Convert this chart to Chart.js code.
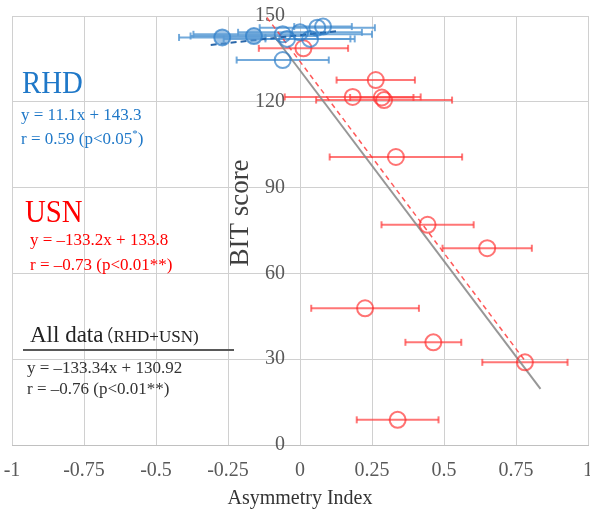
<!DOCTYPE html>
<html>
<head>
<meta charset="utf-8">
<script src="https://cdn.jsdelivr.net/npm/chart.js@4.4.0/dist/chart.umd.min.js"></script>
<style>
  html, body { margin: 0; padding: 0; background: #fff; }
  #wrap { width: 590px; height: 509px; }
</style>
</head>
<body>
<div id="wrap"><canvas id="chart" width="590" height="509"></canvas></div>
<script>
// Eixos
const xTicks = [-1, -0.75, -0.5, -0.25, 0, 0.25, 0.5, 0.75, 1];
const xTickLabels = ["-1", "-0.75", "-0.5", "-0.25", "0", "0.25", "0.5", "0.75", "1"];
const yTicks = [0, 30, 60, 90, 120, 150];

// RHD (azul)
const rhdX = [-0.27, -0.16, -0.06, -0.045, 0.0, 0.035, 0.06, 0.08, -0.06];
const rhdY = [142.5, 143.0, 143.6, 142.0, 144.3, 142.0, 145.9, 146.3, 134.6];
const rhdErr = [0.15, 0.22, 0.31, 0.22, 0.215, 0.155, 0.2, 0.1, 0.16];

// USN (vermelho)
const usnX = [0.012, 0.263, 0.183, 0.284, 0.292, 0.333, 0.443, 0.65, 0.226, 0.463, 0.781, 0.339];
const usnY = [138.7, 127.6, 121.7, 121.5, 120.6, 100.7, 77.0, 68.8, 47.8, 35.9, 28.9, 8.8];
const usnErr = [0.155, 0.136, 0.236, 0.11, 0.236, 0.23, 0.16, 0.155, 0.187, 0.097, 0.148, 0.142];

// Retas de regressão (extremos)
const rhdLineX = [-0.31, 0.13];
const rhdLineY = [139.9, 144.7];
const usnLineX = [-0.115, 0.78];
const usnLineY = [149.5, 29.6];
const allLineX = [-0.09, 0.835];
const allLineY = [143.0, 19.6];

const BLUE = "rgba(46,125,200,0.7)";
const BLUE_BAR = "rgba(91,155,213,0.85)";
const RED = "rgba(255,40,40,0.65)";
const RED_BAR = "rgba(255,60,60,0.7)";

Chart.defaults.font.family = "'Liberation Serif', 'Times New Roman', serif";

function toPoints(xs, ys) {
  return xs.map((x, i) => ({ x: x, y: ys[i] }));
}

function errorBars(xs, ys, errs, color) {
  return xs.map((x, i) => ({
    data: [{ x: x - errs[i], y: ys[i] }, { x: x + errs[i], y: ys[i] }],
    showLine: true,
    borderColor: color,
    borderWidth: 2,
    pointStyle: "line",
    rotation: 90,
    pointRadius: 3.5,
    pointBorderColor: color,
    pointBorderWidth: 2,
    pointHoverRadius: 0,
    order: 3,
  }));
}

const datasets = [
  ...errorBars(rhdX, rhdY, rhdErr, BLUE_BAR),
  ...errorBars(usnX, usnY, usnErr, RED_BAR),
  {
    data: toPoints(allLineX, allLineY),
    showLine: true,
    borderColor: "rgba(140,140,140,0.9)",
    borderWidth: 2,
    pointRadius: 0,
    order: 2,
  },
  {
    data: toPoints(usnLineX, usnLineY),
    showLine: true,
    borderColor: "rgba(255,60,60,0.85)",
    borderWidth: 1.5,
    borderDash: [5, 4],
    pointRadius: 0,
    order: 2,
  },
  {
    data: toPoints(rhdLineX, rhdLineY),
    showLine: true,
    borderColor: "rgba(31,95,165,0.95)",
    borderWidth: 2,
    borderDash: [6, 4],
    pointRadius: 0,
    order: 2,
  },
  {
    label: "RHD",
    data: toPoints(rhdX, rhdY),
    pointStyle: "circle",
    pointRadius: 8,
    pointBorderWidth: 2,
    pointBorderColor: BLUE,
    pointBackgroundColor: (c) => (c.dataIndex < 2 ? "rgba(91,155,213,0.6)" : "rgba(0,0,0,0)"),
    order: 1,
  },
  {
    label: "USN",
    data: toPoints(usnX, usnY),
    pointStyle: "circle",
    pointRadius: 8,
    pointBorderWidth: 2,
    pointBorderColor: RED,
    pointBackgroundColor: "rgba(0,0,0,0)",
    order: 1,
  },
];

// Textos sobre o gráfico
const textPlugin = {
  id: "textos",
  afterDraw(chart) {
    const c = chart.ctx;
    c.save();
    c.textBaseline = "alphabetic";
    c.textAlign = "left";

    // RHD
    c.fillStyle = "#1f78c8";
    c.save();
    c.scale(0.9, 1);
    c.font = "32px 'Liberation Serif'";
    c.fillText("RHD", 22 / 0.9, 93);
    c.restore();
    c.font = "17px 'Liberation Serif'";
    c.fillText("y = 11.1x + 143.3", 21, 120);
    c.fillText("r = 0.59 (p<0.05", 21, 144);
    let w = c.measureText("r = 0.59 (p<0.05").width;
    c.font = "11px 'Liberation Serif'";
    c.fillText("*", 21 + w, 137);
    const w2 = c.measureText("*").width;
    c.font = "17px 'Liberation Serif'";
    c.fillText(")", 21 + w + w2, 144);

    // USN
    c.fillStyle = "#ff0000";
    c.save();
    c.scale(0.9, 1);
    c.font = "32px 'Liberation Serif'";
    c.fillText("USN", 25 / 0.9, 222);
    c.restore();
    c.font = "17px 'Liberation Serif'";
    c.fillText("y = \u2013133.2x + 133.8", 30, 245);
    c.fillText("r = \u20130.73 (p<0.01**)", 30, 270);

    // All data
    c.fillStyle = "#222";
    c.font = "23px 'Liberation Serif'";
    c.fillText("All data", 30, 342);
    w = c.measureText("All data").width;
    c.font = "17px 'Liberation Serif', 'Noto Sans CJK JP'";
    c.fillText("\uFF08RHD+USN)", 30 + w - 7, 342);
    c.strokeStyle = "#595959";
    c.lineWidth = 2;
    c.beginPath();
    c.moveTo(23, 350);
    c.lineTo(234, 350);
    c.stroke();
    c.fillStyle = "#333";
    c.font = "17px 'Liberation Serif'";
    c.fillText("y = \u2013133.34x + 130.92", 27, 373);
    c.fillText("r = \u20130.76 (p<0.01**)", 27, 394);

    // Título do eixo Y
    c.fillStyle = "#404040";
    c.font = "27px 'Liberation Serif'";
    c.translate(248, 213);
    c.rotate(-Math.PI / 2);
    c.textAlign = "center";
    c.fillText("BIT score", 0, 0);
    c.restore();
  },
};

const ctx = document.getElementById("chart").getContext("2d");
new Chart(ctx, {
  type: "scatter",
  data: { datasets: datasets },
  options: {
    responsive: false,
    animation: false,
    events: [],
    layout: {
      autoPadding: false,
      padding: { left: 12, right: 2, top: 16, bottom: -2 },
    },
    plugins: {
      legend: { display: false },
      tooltip: { enabled: false },
    },
    scales: {
      x: {
        type: "linear",
        min: -1,
        max: 1,
        afterBuildTicks: (s) => {
          s.ticks = xTicks.map((v) => ({ value: v }));
        },
        ticks: {
          padding: -3,
          color: "#595959",
          font: { size: 20 },
          callback: (v) => xTickLabels[xTicks.indexOf(v)],
        },
        grid: {
          color: "#d0d0d0",
          lineWidth: 1,
          drawTicks: true,
          tickLength: 17,
          tickColor: "rgba(0,0,0,0)",
        },
        border: { color: "#c0c0c0", width: 1 },
        title: {
          display: true,
          text: "Asymmetry Index",
          color: "#333",
          font: { size: 20 },
          padding: { top: 7, bottom: 0 },
        },
      },
      y: {
        type: "linear",
        // rótulos do eixo Y um pouco à esquerda da linha x = 0
        position: { x: -0.052 },
        min: 0,
        max: 150,
        afterBuildTicks: (s) => {
          s.ticks = yTicks.map((v) => ({ value: v }));
        },
        ticks: {
          padding: 0,
          color: "#595959",
          font: { size: 20 },
        },
        grid: {
          color: "#d0d0d0",
          lineWidth: 1,
          drawTicks: false,
        },
        border: { display: false },
      },
    },
  },
  plugins: [textPlugin],
});
</script>
</body>
</html>
